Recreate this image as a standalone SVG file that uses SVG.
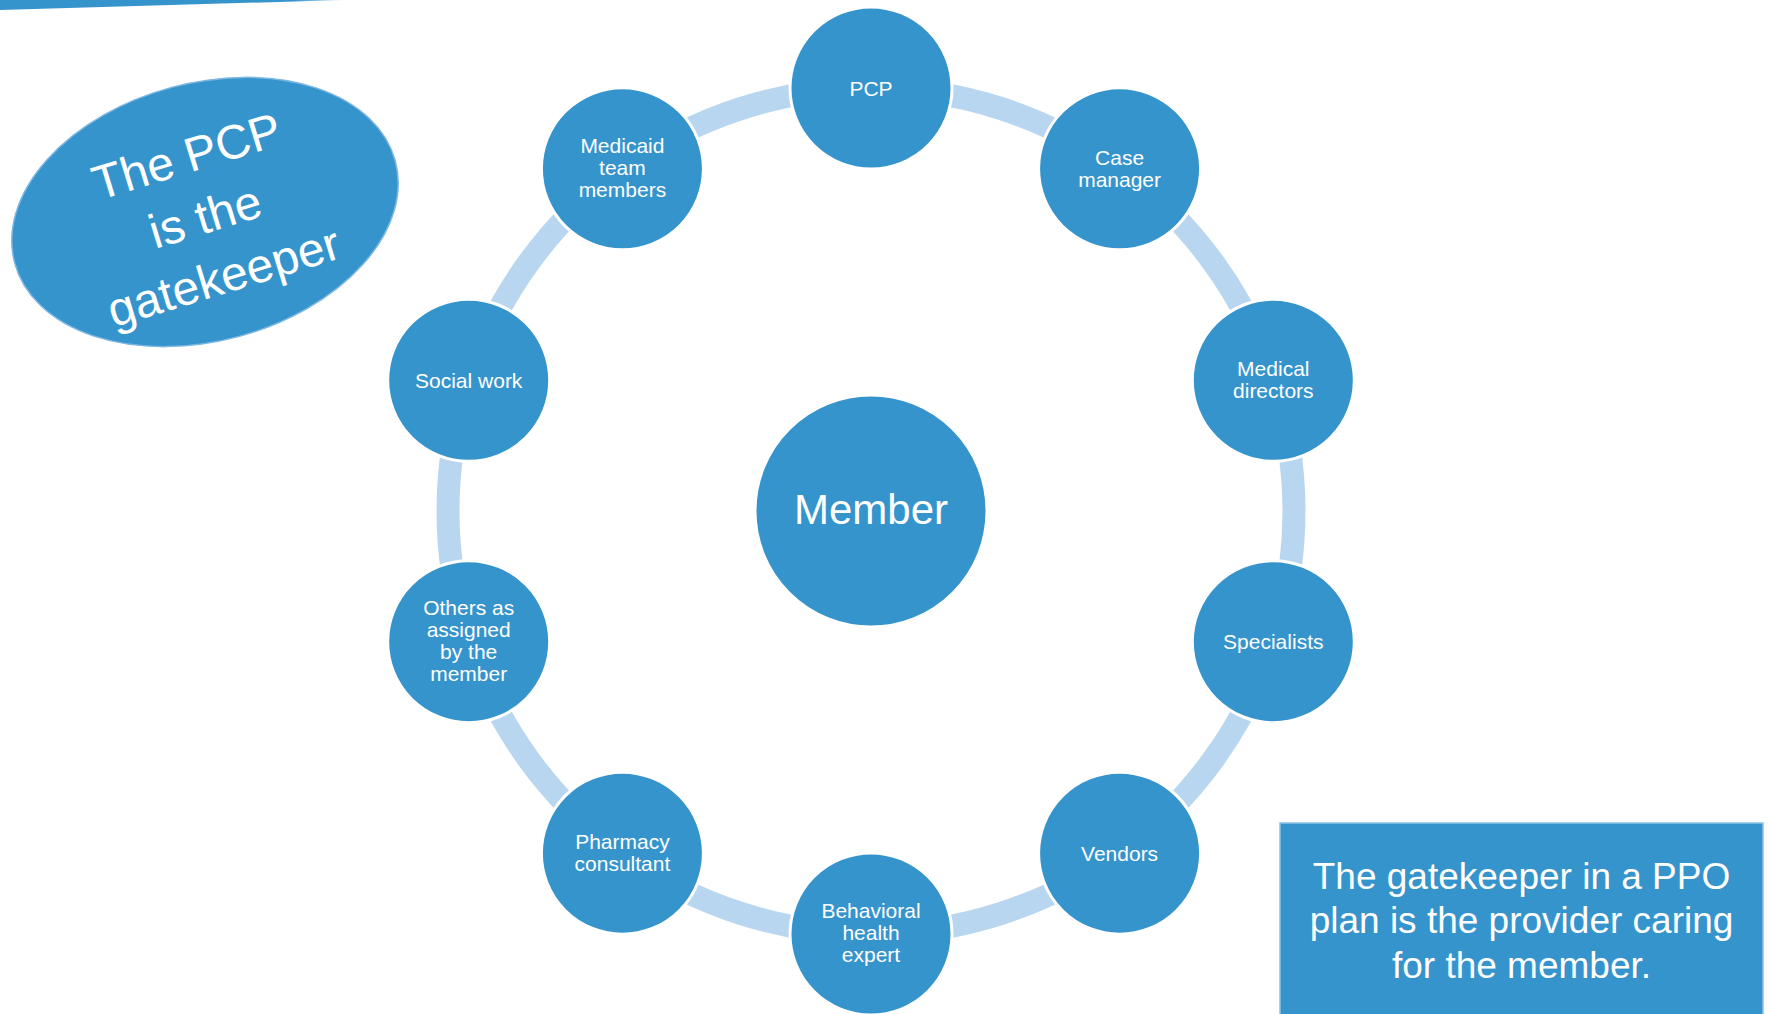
<svg xmlns="http://www.w3.org/2000/svg" width="1772" height="1014" viewBox="0 0 1772 1014">
<defs>
<linearGradient id="barg" x1="0" y1="0" x2="1" y2="0">
<stop offset="0" stop-color="#3694CD"/>
<stop offset="0.85" stop-color="#3694CD"/>
<stop offset="1" stop-color="#3694CD" stop-opacity="0.2"/>
</linearGradient>
</defs>
<style>
.node{fill:#3694CD;stroke:#FFFFFF;stroke-width:3}
.arc{fill:none;stroke:#B8D6EF;stroke-width:23}
.lbl{font-family:"Liberation Sans",Arial,sans-serif;font-size:21px;fill:#FFFFFF;text-anchor:middle}
.big{font-family:"Liberation Sans",Arial,sans-serif;fill:#FFFFFF;text-anchor:middle}
</style>
<rect width="1772" height="1014" fill="#FFFFFF"/>
<polygon points="0,0 345,0 0,10" fill="url(#barg)"/>

<g id="connectors">
<path class="arc" d="M871,88 A423,423 0 0 1 1119.6,168.8"/>
<path class="arc" d="M1119.6,168.8 A423,423 0 0 1 1273.3,380.3"/>
<path class="arc" d="M1273.3,380.3 A423,423 0 0 1 1273.3,641.7"/>
<path class="arc" d="M1273.3,641.7 A423,423 0 0 1 1119.6,853.2"/>
<path class="arc" d="M1119.6,853.2 A423,423 0 0 1 871,934"/>
<path class="arc" d="M871,934 A423,423 0 0 1 622.4,853.2"/>
<path class="arc" d="M622.4,853.2 A423,423 0 0 1 468.7,641.7"/>
<path class="arc" d="M468.7,641.7 A423,423 0 0 1 468.7,380.3"/>
<path class="arc" d="M468.7,380.3 A423,423 0 0 1 622.4,168.8"/>
<path class="arc" d="M622.4,168.8 A423,423 0 0 1 871,88"/>
</g>

<g id="member">
<circle class="node" cx="871" cy="511" r="116"/>
<text class="big" x="871" y="524" font-size="42">Member</text>
</g>

<g id="pcp">
<circle class="node" cx="871" cy="88" r="81"/>
<text class="lbl" x="871" y="95.5">PCP</text>
</g>
<g id="case-manager">
<circle class="node" cx="1119.6" cy="168.8" r="81"/>
<text class="lbl" x="1119.6" y="164.8">Case</text>
<text class="lbl" x="1119.6" y="186.8">manager</text>
</g>
<g id="medical-directors">
<circle class="node" cx="1273.3" cy="380.3" r="81"/>
<text class="lbl" x="1273.3" y="376.3">Medical</text>
<text class="lbl" x="1273.3" y="398.3">directors</text>
</g>
<g id="specialists">
<circle class="node" cx="1273.3" cy="641.7" r="81"/>
<text class="lbl" x="1273.3" y="649.2">Specialists</text>
</g>
<g id="vendors">
<circle class="node" cx="1119.6" cy="853.2" r="81"/>
<text class="lbl" x="1119.6" y="860.7">Vendors</text>
</g>
<g id="behavioral-health-expert">
<circle class="node" cx="871" cy="934" r="81"/>
<text class="lbl" x="871" y="918">Behavioral</text>
<text class="lbl" x="871" y="940">health</text>
<text class="lbl" x="871" y="962">expert</text>
</g>
<g id="pharmacy-consultant">
<circle class="node" cx="622.4" cy="853.2" r="81"/>
<text class="lbl" x="622.4" y="849.2">Pharmacy</text>
<text class="lbl" x="622.4" y="871.2">consultant</text>
</g>
<g id="others">
<circle class="node" cx="468.7" cy="641.7" r="81"/>
<text class="lbl" x="468.7" y="614.7">Others as</text>
<text class="lbl" x="468.7" y="636.7">assigned</text>
<text class="lbl" x="468.7" y="658.7">by the</text>
<text class="lbl" x="468.7" y="680.7">member</text>
</g>
<g id="social-work">
<circle class="node" cx="468.7" cy="380.3" r="81"/>
<text class="lbl" x="468.7" y="387.8">Social work</text>
</g>
<g id="medicaid-team-members">
<circle class="node" cx="622.4" cy="168.8" r="81"/>
<text class="lbl" x="622.4" y="153.3">Medicaid</text>
<text class="lbl" x="622.4" y="175.3">team</text>
<text class="lbl" x="622.4" y="197.3">members</text>
</g>

<g id="pcp-callout">
<ellipse cx="205" cy="212" rx="197" ry="129" transform="rotate(-15 205 212)" fill="#3694CD" stroke="#7DB7E2" stroke-width="1.5"/>
<g transform="translate(205,216) rotate(-17)">
<text class="big" x="0" y="-46" font-size="48">The PCP</text>
<text class="big" x="0" y="17" font-size="48">is the</text>
<text class="big" x="0" y="80" font-size="48">gatekeeper</text>
</g>
</g>

<g id="ppo-note">
<rect x="1280" y="823" width="483" height="200" fill="#3694CD" stroke="#8CC2E8" stroke-width="1.5"/>
<text class="big" x="1521.5" y="889" font-size="37">The gatekeeper in a PPO</text>
<text class="big" x="1521.5" y="933" font-size="37">plan is the provider caring</text>
<text class="big" x="1521.5" y="978" font-size="37">for the member.</text>
</g>
</svg>
